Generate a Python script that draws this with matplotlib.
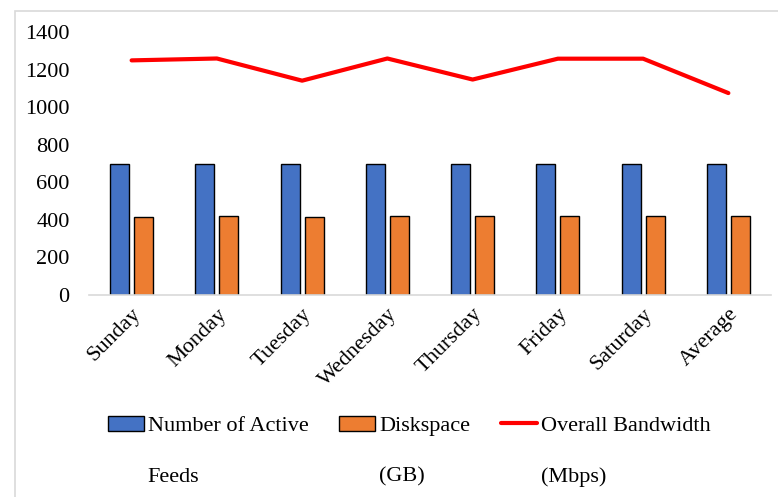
import numpy as np
import matplotlib
matplotlib.use("Agg")
import matplotlib.pyplot as plt
from matplotlib.patches import Rectangle

plt.rcParams.update({
    "font.family": "Liberation Serif",
    "font.size": 16,
})

days = ["Sunday", "Monday", "Tuesday", "Wednesday", "Thursday", "Friday", "Saturday", "Average"]
active_feeds = [695, 700, 698, 700, 700, 700, 700, 700]
diskspace_gb = [416, 418, 416, 418, 418, 418, 418, 418]
bandwidth_mbps = [1249, 1259, 1141, 1259, 1147, 1258, 1258, 1075]

legend_first = ["Number of Active", "Diskspace", "Overall Bandwidth"]
legend_second = ["Feeds", "(GB)", "(Mbps)"]

fig = plt.figure(figsize=(7.78, 4.97), dpi=100)
ax = fig.add_axes([0.1144, 0.4064, 0.8766, 0.5292])

# light grey chart border (runs off the right/bottom like the source)
fig.patches.append(Rectangle((15 / 778, -0.1), 1.2, 1 - 11 / 497 + 0.1,
                             transform=fig.transFigure, fill=False,
                             edgecolor="#d9d9d9", linewidth=1.2))

x = np.arange(len(days))
w = 0.223
b1 = ax.bar(x - 0.141, active_feeds, w, color="#4472C4", edgecolor="black", linewidth=1,
            zorder=2)
b2 = ax.bar(x + 0.141, diskspace_gb, w, color="#ED7D31", edgecolor="black", linewidth=1,
            zorder=2)
ln, = ax.plot(x, bandwidth_mbps, color="#FF0000", linewidth=3,
              solid_capstyle="round", zorder=3)

ax.set_xlim(-0.5, len(days) - 0.5)
ax.set_ylim(0, 1400)
ax.set_yticks(range(0, 1401, 200))
ax.set_xticks(x)
ax.set_xticklabels(days, rotation=45, ha="right", rotation_mode="anchor")
ax.tick_params(axis="both", length=0)
ax.tick_params(axis="y", pad=14)
ax.tick_params(axis="x", pad=7)
for side in ["top", "right", "left"]:
    ax.spines[side].set_visible(False)
ax.spines["bottom"].set_color("#d9d9d9")
ax.spines["bottom"].set_linewidth(1.2)

leg = fig.legend([b1, b2, ln], legend_first,
                 loc="center left", bbox_to_anchor=(108 / 778, 1 - 426 / 497),
                 ncol=3, frameon=False, borderaxespad=0, borderpad=0,
                 handlelength=1.6, handletextpad=0.18, columnspacing=1.4)

fig.canvas.draw()
inv = fig.transFigure.inverted()
for txt, second in zip(leg.get_texts(), legend_second):
    bb = txt.get_window_extent()
    x0 = inv.transform((bb.x0, bb.y0))[0]
    fig.text(x0, 1 - 477 / 497, second, ha="left", va="center", fontsize=16)

fig.savefig("out.png", dpi=100)
